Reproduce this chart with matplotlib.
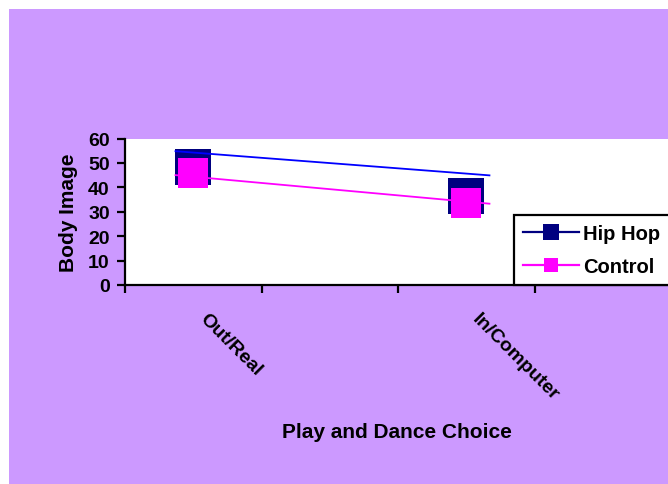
import numpy as np
import matplotlib
matplotlib.use("Agg")
import matplotlib.pyplot as plt
from matplotlib.patches import Rectangle
from matplotlib.lines import Line2D
from matplotlib.transforms import ScaledTranslation

plt.rcParams["font.family"] = ["Liberation Sans", "DejaVu Sans"]
plt.rcParams["font.weight"] = "bold"

# Categories on the x axis (two unlabeled slots keep Excel's spacing)
categories = ["Out/Real", "", "In/Computer", ""]

# Group means shown as square markers
hip_hop_means = [48.4, np.nan, 36.6, np.nan]
control_means = [45.8, np.nan, 33.7, np.nan]

# Connecting lines between the two conditions
line_x = [-0.13, 2.17]
hip_hop_line = [54.8, 44.9]
control_line = [45.0, 33.3]

y_ticks = [0, 10, 20, 30, 40, 50, 60]

W, H = 668, 485
fig = plt.figure(figsize=(W / 100, H / 100), dpi=100)
fig.patch.set_facecolor("white")
fig.add_artist(Rectangle((9 / W, 0), 1, 1 - 10 / H, transform=fig.transFigure,
                         facecolor="#CC99FF", edgecolor="none", zorder=0))

ax = fig.add_axes([125 / W, 199 / H, 546 / W, 146.5 / H])
ax.set_facecolor("white")

x = np.arange(len(categories))
ax.plot(x, hip_hop_means, linestyle="none", marker="s", ms=25.7, mew=0,
        color="#000080", zorder=2, clip_on=False)
ax.plot(x, control_means, linestyle="none", marker="s", ms=21.4, mew=0,
        color="#FF00FF", zorder=3, clip_on=False)
ax.plot(line_x, hip_hop_line, color="#0000FF", lw=1.3, zorder=4)
ax.plot(line_x, control_line, color="#FF00FF", lw=1.3, zorder=4)

ax.set_xlim(-0.5, len(categories) - 0.5)
ax.set_ylim(0, 60)
ax.set_yticks(y_ticks)
ax.set_xticks(np.arange(len(categories) + 1) - 0.5)
ax.set_xticklabels([])

for s in ["top", "right"]:
    ax.spines[s].set_visible(False)
for s in ["left", "bottom"]:
    ax.spines[s].set_linewidth(1.6)
    ax.spines[s].set_color("black")

ax.tick_params(axis="y", direction="out", length=5.5, width=1.6, pad=5.5,
               labelsize=14)
ax.tick_params(axis="x", direction="out", length=5.5, width=1.6)
for lab in ax.get_yticklabels():
    lab.set_fontweight("bold")

# Rotated category labels
offset = ScaledTranslation(15 / 100, -25 / 100, fig.dpi_scale_trans)
for xi, name in zip(x, categories):
    if name:
        ax.text(xi, 0, name, transform=ax.get_xaxis_transform() + offset,
                rotation=-45, rotation_mode="anchor", ha="left", va="top",
                fontsize=14, fontweight="bold")

ax.set_ylabel("Body Image", fontsize=15, fontweight="bold", labelpad=7)
ax.set_xlabel("Play and Dance Choice", fontsize=15, fontweight="bold")
ax.xaxis.set_label_coords(0.498, (286 - 433) / 146.5)
ax.xaxis.label.set_va("center")

handles = [
    Line2D([], [], color="#000080", lw=1.6, marker="s", ms=12.2, mew=0),
    Line2D([], [], color="#FF00FF", lw=1.6, marker="s", ms=10.3, mew=0),
]
leg = fig.legend(handles, ["Hip Hop", "Control"], loc="upper left",
                 bbox_to_anchor=(514 / W, 1 - 283 / H, 170 / W, 67 / H),
                 mode="expand", borderaxespad=0,
                 prop={"weight": "bold", "size": 14.5},
                 handlelength=2.76, handletextpad=0.22, borderpad=0.45,
                 labelspacing=0.7, fancybox=False, framealpha=1,
                 edgecolor="black", facecolor="white")
leg.get_frame().set_linewidth(1.6)
leg.set_zorder(10)

fig.savefig("out.png", dpi=100, facecolor=fig.get_facecolor())
